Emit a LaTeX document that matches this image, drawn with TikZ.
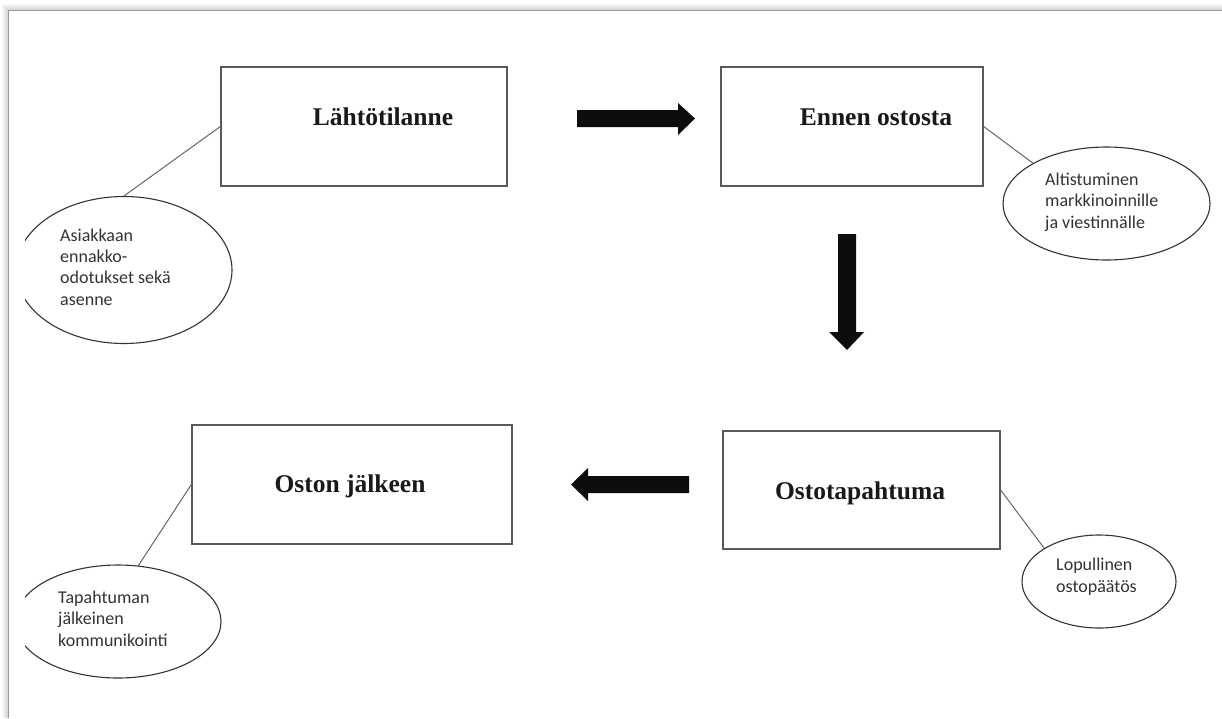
\documentclass[tikz,border=0pt]{standalone}
\usepackage{fontspec}
\setmainfont{Liberation Serif}
\newfontfamily\calfont{Carlito}
\usetikzlibrary{shapes.geometric}
\begin{document}
\begin{tikzpicture}[x=1pt,y=-1pt,
  stagebox/.style={draw=black!65, line width=1.3pt, inner sep=0pt, rectangle},
  stagetext/.style={font=\fontsize{25.5}{30}\selectfont\bfseries, text=black!90, anchor=base, inner sep=0pt},
  bubble/.style={draw=black!80, line width=1.1pt, ellipse, inner sep=0pt},
  bubbletext/.style={font=\calfont\fontsize{18}{21.3}\selectfont, text=black!80, align=left, anchor=base west, inner sep=0pt},
  link/.style={draw=black!60, line width=1pt},
  blockarrow/.style={fill=black!95}]
\useasboundingbox[fill=white] (0,0) rectangle (1222,718);
% page edge with soft shadow
\foreach \i in {1,...,6} {
  \draw[black, opacity=0.18-0.025*\i, line width=1pt] (8.5-\i,718) -- (8.5-\i,10.5-\i) -- (1222,10.5-\i);
}
\draw[black!40, line width=1pt] (8.5,718) -- (8.5,10.5) -- (1222,10.5);

% stage boxes
\node[stagebox, minimum width=286pt, minimum height=119pt] (b1) at (364,126.5) {};
\node[stagebox, minimum width=262pt, minimum height=119pt] (b2) at (852,126.5) {};
\node[stagebox, minimum width=277pt, minimum height=118pt] (b3) at (861.5,490) {};
\node[stagebox, minimum width=320pt, minimum height=119pt] (b4) at (352,484.5) {};
\node[stagetext] (s1) at (383,125) {Lähtötilanne};
\node[stagetext] (s2) at (876,125) {Ennen\ ostosta};
\node[stagetext] (s3) at (860,499) {Ostotapahtuma};
\node[stagetext] (s4) at (350,492) {Oston jälkeen};

% bubbles
\begin{scope}
\clip (25,0) rectangle (1222,718);
\node[bubble, minimum width=216pt, minimum height=147pt] (e1) at (124,270) {};
\node[bubble, minimum width=206pt, minimum height=113pt] (e4) at (118,621.5) {};
\end{scope}
\node[bubble, minimum width=207pt, minimum height=113pt] (e2) at (1106.5,203.5) {};
\node[bubble, minimum width=154pt, minimum height=93pt] (e3) at (1099,581.5) {};

\node[bubbletext] (t1) at (60,305) {Asiakkaan\\ennakko-\\odotukset sekä\\asenne};
\node[bubbletext] (t2) at (1045,228) {Altistuminen\\markkinoinnille\\ja viestinnälle};
\node[bubbletext] (t3) at (1056,592) {Lopullinen\\ostopäätös};
\node[bubbletext] (t4) at (58,646) {Tapahtuman\\jälkeinen\\kommunikointi};

% links
\draw[link] (e1.north) -- (b1.west);
\draw[link] (b2.east) -- (e2.north west);
\draw[link] (b3.east) -- (e3.north west);
\draw[link] (e4.70) -- (b4.west);

% block arrows
\fill[blockarrow] (577,110) -- (678,110) -- (678,103) -- (695,118.5) -- (678,135) -- (678,127) -- (577,127) -- cycle;
\fill[blockarrow] (838,234) -- (856,234) -- (856,332) -- (864,332) -- (847,350) -- (829,332) -- (838,332) -- cycle;
\fill[blockarrow] (689,476) -- (588,476) -- (588,468) -- (571,484.5) -- (588,501) -- (588,493) -- (689,493) -- cycle;
\end{tikzpicture}
\end{document}
